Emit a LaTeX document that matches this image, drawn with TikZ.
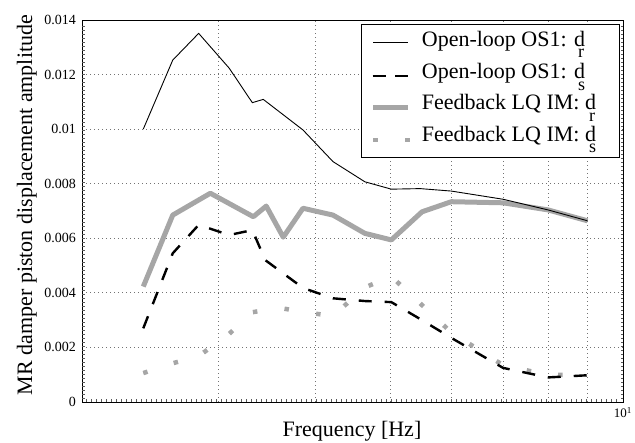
\documentclass[tikz,border=0pt]{standalone}
\usepackage{fontspec}
\setmainfont{Liberation Serif}
\usepackage{tikz}
\usetikzlibrary{calc}

% subscript set low under the d, as in the legend
\newcommand{\lowsub}[1]{d\kern-7pt\raisebox{-11.5pt}{\fontsize{18}{18}\selectfont #1}}

\begin{document}
\begin{tikzpicture}[x=1pt, y=1pt,
        declare function={lf(\f)=log10(\f/2);}]

        % Styles for the grid, the curves and the labels
        \tikzset{gridline/.style={black!55, line width=0.7pt, dash pattern=on 1pt off 3pt},
                 minortick/.style={black!65, line width=0.5pt},
                 openR/.style={black, line width=0.9pt, line join=round},
                 openS/.style={black, line width=2.4pt, dash pattern=on 13pt off 13pt},
                 fbR/.style={black!35, line width=5pt, line join=round},
                 fbS/.style={black!35, line width=4.5pt, dash pattern=on 4.5pt off 27.5pt},
                 ticklabel/.style={inner sep=0pt, font=\fontsize{14}{16}\selectfont},
                 axislabel/.style={inner sep=0pt, font=\fontsize{22}{24}\selectfont},
                 legendtext/.style={anchor=base west, inner sep=0pt, font=\fontsize{22}{24}\selectfont}}

        \useasboundingbox (0,0) rectangle (635,443);

        % =================================================================
        % 1. AXES, GRID AND TICKS
        % =================================================================

        \begin{scope}[shift={(82,41)}, x=774pt, y=27.286pt]

            % Dotted grid
            \foreach \f in {3,...,9}
                \draw[gridline] ({lf(\f)},0) -- ({lf(\f)},14);
            \foreach \v in {2,4,...,12}
                \draw[gridline] (0,\v) -- ({lf(10)},\v);

            % Frame
            \coordinate (LL) at (0,0);
            \coordinate (UR) at ({lf(10)},14);
            \draw[black, line width=0.8pt] (LL) rectangle (UR);

            % Tick labels
            \foreach \v/\txt in {0/0, 2/0.002, 4/0.004, 6/0.006, 8/0.008, 10/0.01, 12/0.012, 14/0.014}
                \node[ticklabel, anchor=east, xshift=-6pt] (ytick\v) at (0,\v) {\txt};
            \node[ticklabel, anchor=north, yshift=-5pt, font=\fontsize{13}{15}\selectfont] (xtick10) at ({lf(10)},0) {10\textsuperscript{1}};

        \end{scope}

        % Small ticks along left, bottom and right sides
        \foreach \t in {45,49,...,420} {
            \draw[minortick] (82,\t) -- (84.5,\t);
            \draw[minortick] (623,\t) -- (620.5,\t);
        }
        \foreach \t in {86,91,...,620}
            \draw[minortick] (\t,41) -- (\t,43.5);

        % Axis labels
        \node[axislabel, anchor=base] (xlabel) at (352,6) {Frequency [Hz]};
        \node[axislabel, anchor=base, rotate=90] (ylabel) at (32,238) {MR damper piston displacement amplitude};

        % =================================================================
        % 2. CURVES
        % =================================================================

        \begin{scope}[shift={(82,41)}, x=774pt, y=27.286pt]

            % Feedback LQ IM: d_r
            \draw[fbR] ({lf(2.4)},4.23) -- ({lf(2.62)},6.85) -- ({lf(2.93)},7.65) -- ({lf(3.33)},6.79)
                -- ({lf(3.46)},7.18) -- ({lf(3.64)},6.04) -- ({lf(3.86)},7.10) -- ({lf(4.22)},6.85)
                -- ({lf(4.64)},6.18) -- ({lf(5.02)},5.94) -- ({lf(5.5)},6.97) -- ({lf(6)},7.34)
                -- ({lf(7)},7.30) -- ({lf(8)},7.04) -- ({lf(9)},6.64);

            % Feedback LQ IM: d_s
            \draw[fbS] ({lf(2.4)},1.06) -- ({lf(2.62)},1.42) -- ({lf(2.83)},1.68) -- ({lf(3.1)},2.50)
                -- ({lf(3.32)},3.29) -- ({lf(3.6)},3.45) -- ({lf(3.86)},3.30) -- ({lf(4.22)},3.15)
                -- ({lf(4.64)},4.20) -- ({lf(5.02)},4.60) -- ({lf(6)},2.55) -- ({lf(7)},1.35)
                -- ({lf(8)},0.99) -- ({lf(9)},1.00);

            % Open-loop OS1: d_s
            \draw[openS] ({lf(2.4)},2.70) -- ({lf(2.62)},5.45) -- ({lf(2.83)},6.49) -- ({lf(3.1)},6.12)
                -- ({lf(3.32)},6.30) -- ({lf(3.45)},5.20) -- ({lf(3.86)},4.18) -- ({lf(4.22)},3.80)
                -- ({lf(4.64)},3.70) -- ({lf(5.02)},3.66) -- ({lf(5.47)},3.04) -- ({lf(6)},2.35)
                -- ({lf(7)},1.25) -- ({lf(8)},0.90) -- ({lf(9)},0.98);

            % Open-loop OS1: d_r
            \draw[openR] ({lf(2.4)},10.0) -- ({lf(2.62)},12.53) -- ({lf(2.83)},13.51) -- ({lf(3.1)},12.23)
                -- ({lf(3.32)},10.97) -- ({lf(3.43)},11.09) -- ({lf(3.86)},9.97) -- ({lf(4.22)},8.81)
                -- ({lf(4.64)},8.07) -- ({lf(5.02)},7.80) -- ({lf(5.47)},7.82) -- ({lf(6)},7.73)
                -- ({lf(7)},7.43) -- ({lf(8)},7.04) -- ({lf(9)},6.64);

        \end{scope}

        % =================================================================
        % 3. LEGEND
        % =================================================================

        \draw[fill=white, line width=0.8pt] (361,286) rectangle (619,419);

        \coordinate (legA1) at (373,400.3);   \coordinate (legA2) at (408,400.3);
        \coordinate (legB1) at (372.7,367);   \coordinate (legB2) at (408.3,367);
        \coordinate (legC1) at (373,335.7);   \coordinate (legC2) at (408,335.7);
        \coordinate (legD1) at (373,303);     \coordinate (legD2) at (410,303);

        \draw[openR] (legA1) -- (legA2);
        \draw[openS, dash pattern=on 13.5pt off 9pt] (legB1) -- (legB2);
        \draw[fbR] (legC1) -- (legC2);
        \draw[fbS] (legD1) -- (legD2);

        \node[legendtext] (legA) at (421.7,396.5) {Open-loop OS1: \lowsub{r}};
        \node[legendtext] (legB) at (421.7,364) {Open-loop OS1: \lowsub{s}};
        \node[legendtext] (legC) at (421.7,333) {Feedback LQ IM: \lowsub{r}};
        \node[legendtext] (legD) at (421.7,301.5) {Feedback LQ IM: \lowsub{s}};

    \end{tikzpicture}
\end{document}
